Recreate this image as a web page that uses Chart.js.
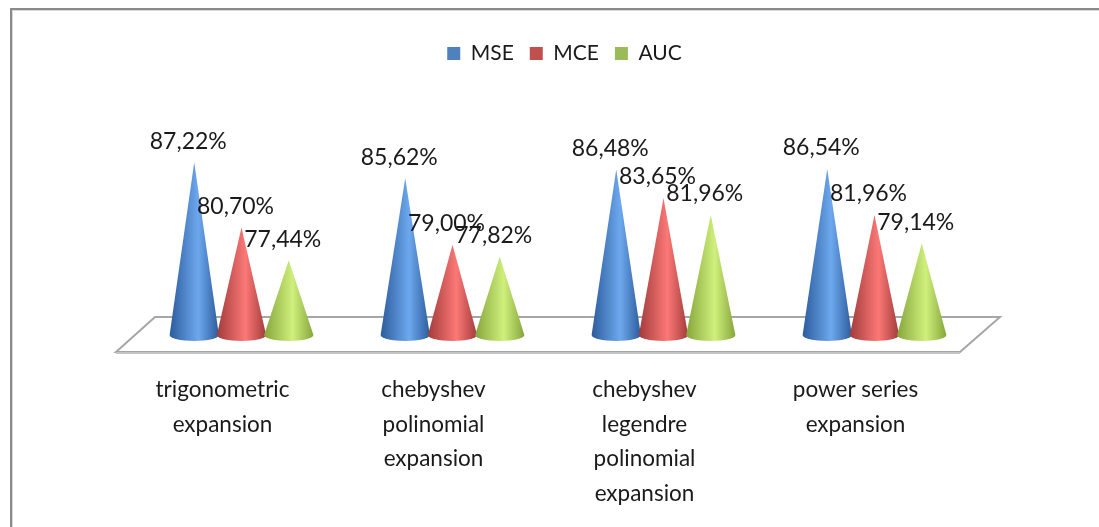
<!DOCTYPE html>
<html>
<head>
<meta charset="utf-8">
<style>
    html, body { margin: 0; padding: 0; background: #fff; }
    #wrap { position: relative; width: 1099px; height: 527px; overflow: hidden; }
    #frame { position: absolute; left: 10px; top: 8px; width: 1200px; height: 600px; border: 2px solid #8a8a8a; box-shadow: inset 1px 1px 0 #d8d8d8; }
    canvas { position: absolute; left: 0; top: 0; }
</style>
<script src="https://cdn.jsdelivr.net/npm/chart.js@4"></script>
</head>
<body>
<div id="wrap">
    <div id="frame"></div>
    <canvas id="myChart" width="1099" height="527"></canvas>
</div>
<script>
    const categories = [
        ['trigonometric', 'expansion'],
        ['chebyshev', 'polinomial', 'expansion'],
        ['chebyshev', 'legendre', 'polinomial', 'expansion'],
        ['power series', 'expansion']
    ]
    const mse = [87.22, 85.62, 86.48, 86.54]
    const mce = [80.70, 79.00, 83.65, 81.96]
    const auc = [77.44, 77.82, 81.96, 79.14]

    const fontName = 'Lato'
    const labelFmt = v => v.toFixed(2).replace('.', ',') + '%'

    // edge, highlight colours for the cone shading
    const shades = [
        ['#2c5c9c', '#6da8ee'],
        ['#a23c3b', '#fb7876'],
        ['#86a63c', '#cff07c']
    ]

    const drawFloor = (chart) => {
        const {ctx, chartArea} = chart
        const back = chartArea.bottom - 18, front = chartArea.bottom + 17
        ctx.save()
        ctx.beginPath()
        ctx.moveTo(chartArea.left - 20, front)
        ctx.lineTo(chartArea.left + 19, back)
        ctx.lineTo(chartArea.right + 20, back)
        ctx.lineTo(chartArea.right - 20, front)
        ctx.closePath()
        ctx.fillStyle = '#fff'
        ctx.fill()
        ctx.strokeStyle = '#a6a6a6'
        ctx.lineWidth = 2
        ctx.stroke()
        // front edge is heavier
        ctx.beginPath()
        ctx.moveTo(chartArea.left - 20, front + 1)
        ctx.lineTo(chartArea.right - 20, front + 1)
        ctx.strokeStyle = '#c4c4c4'
        ctx.stroke()
        ctx.restore()
    }

    const drawCone = (ctx, bar, base, shade) => {
        const {x, y} = bar
        const w = bar.width + 2
        const g = ctx.createLinearGradient(x - w / 2, 0, x + w / 2, 0)
        g.addColorStop(0, shade[0])
        g.addColorStop(0.58, shade[1])
        g.addColorStop(1, shade[0])
        ctx.beginPath()
        ctx.moveTo(x, y)
        ctx.lineTo(x - w / 2, base)
        ctx.ellipse(x, base, w / 2, 6, 0, Math.PI, 0, true)
        ctx.closePath()
        ctx.fillStyle = g
        ctx.fill()
    }

    // cones instead of the flat bars, first series underneath
    const conePlugin = {
        id: 'cones',
        afterLayout(chart) {
            chart.legend.left += 13
        },
        beforeDatasetsDraw(chart) {
            const {ctx, chartArea} = chart
            drawFloor(chart)
            chart.data.datasets.forEach((ds, i) => {
                chart.getDatasetMeta(i).data.forEach(bar => drawCone(ctx, bar, chartArea.bottom, shades[i]))
            })
            ctx.save()
            ctx.font = '23px ' + fontName
            ctx.fillStyle = '#1a1a1a'
            ctx.textAlign = 'center'
            ctx.textBaseline = 'middle'
            chart.data.datasets.forEach((ds, i) => {
                chart.getDatasetMeta(i).data.forEach((bar, j) => {
                    ctx.fillText(labelFmt(ds.data[j]), bar.x - 6, bar.y - 21)
                })
            })
            ctx.restore()
            return false
        }
    }

    new Chart(document.getElementById('myChart'), {
        type: 'bar',
        data: {
            labels: categories,
            datasets: [
                {label: 'MSE', data: mse, backgroundColor: '#4f81bd'},
                {label: 'MCE', data: mce, backgroundColor: '#c0504d'},
                {label: 'AUC', data: auc, backgroundColor: '#9bbb59'}
            ]
        },
        options: {
            responsive: false,
            animation: false,
            categoryPercentage: 0.672,
            barPercentage: 1,
            layout: {padding: {left: 136, right: 119, top: 27, bottom: 0}},
            plugins: {
                tooltip: {enabled: false},
                legend: {
                    position: 'top',
                    labels: {
                        boxWidth: 13,
                        boxHeight: 13,
                        padding: 16,
                        color: '#1a1a1a',
                        font: {family: fontName, size: 21}
                    }
                }
            },
            scales: {
                y: {display: false, min: 70, max: 96},
                x: {
                    afterFit(scale) { scale.height = 192 },
                    grid: {display: false, drawTicks: false},
                    border: {display: false},
                    ticks: {
                        color: '#1a1a1a',
                        maxRotation: 0,
                        autoSkip: false,
                        labelOffset: -19,
                        padding: 37,
                        font: {family: fontName, size: 22.5, lineHeight: 1.55}
                    }
                }
            }
        },
        plugins: [conePlugin]
    })
</script>
</body>
</html>
